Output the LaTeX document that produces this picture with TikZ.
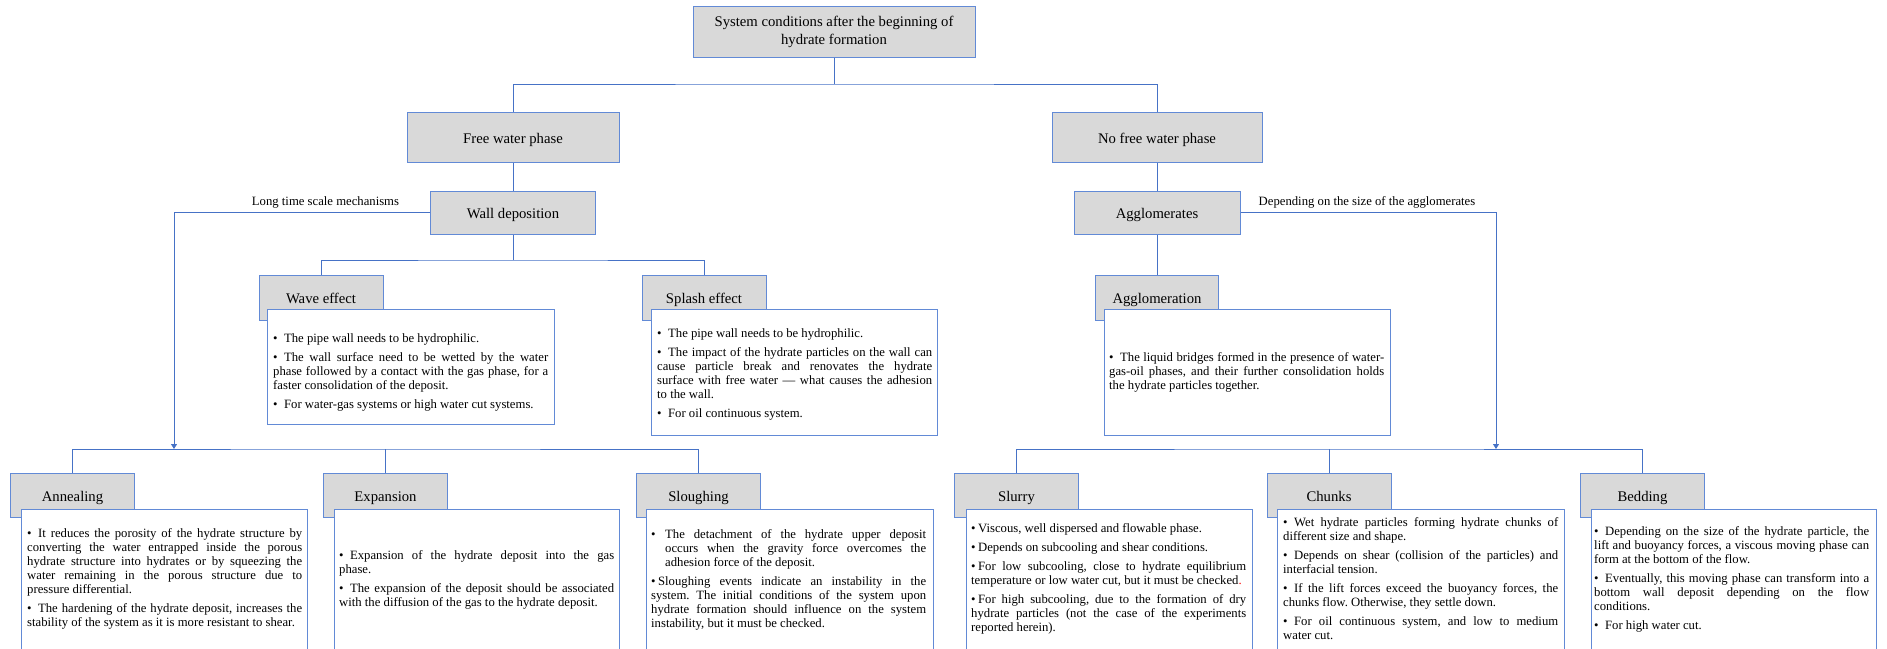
\documentclass[tikz,border=0pt]{standalone}
\usepackage{fontspec}
\setmainfont{Liberation Serif}
\usetikzlibrary{arrows.meta}
\definecolor{bord}{RGB}{98,138,214}
\definecolor{conn}{RGB}{70,114,198}
\definecolor{hdrgray}{RGB}{217,217,217}
% bullet markers used in the description boxes
\newcommand\bul{\textbullet\hspace{6.5pt}}
\newcommand\bulnarrow{\textbullet\hspace{2.5pt}}
\newcommand\bulhang{\hangindent=14pt\hangafter=1\makebox[14pt][l]{\textbullet}}

\begin{document}
\begin{tikzpicture}[x=1pt,y=-1pt,
  hdrbase/.style={draw=bord, fill=hdrgray, line width=1pt, inner sep=0pt,
    font=\fontsize{14.7}{17.5}\selectfont},
  hdr/.style={hdrbase, text height=14.5pt, text depth=2.5pt},
  tbox/.style={draw=bord, fill=white, line width=1pt, inner sep=0pt, anchor=north west},
  txt/.style={anchor=north west, inner sep=0pt, text width=275pt, align=justify,
    font=\fontsize{12.7}{14}\selectfont,
    execute at begin node={\frenchspacing\setlength{\parskip}{5pt}\setlength{\parindent}{0pt}\tolerance=9999\hyphenpenalty=10000}},
  lbl/.style={inner sep=0pt, font=\fontsize{12.7}{14}\selectfont},
  link/.style={draw=conn, line width=0.9pt},
  flow/.style={link, -{Triangle[width=6pt,length=5pt]}}
]
\useasboundingbox (0,0) rectangle (1887,648);
\clip (0,0) rectangle (1887,648);

% ---------- junction points ----------
\coordinate (jtop) at (834,84);
\coordinate (jwall) at (513,260);
\coordinate (jleft) at (385.5,449);
\coordinate (jleftin) at (174,449);
\coordinate (jright) at (1329,449);
\coordinate (jrightin) at (1496,449);

% ---------- upper boxes ----------
\node[hdrbase, minimum width=282, minimum height=51] (top) at (834,31.5)
  {\raisebox{-2.5pt}{\begin{tabular}{@{}c@{}}System conditions after the beginning of\\[0.5pt]hydrate formation\end{tabular}}};
\node[hdr, minimum width=212, minimum height=50] (free) at (513,137) {Free water phase};
\node[hdr, minimum width=210, minimum height=50] (nofree) at (1157,137) {No free water phase};
\node[hdr, minimum width=165, minimum height=43] (wall) at (513,212.5) {Wall deposition};
\node[hdr, minimum width=166, minimum height=43] (aggl) at (1157,212.5) {Agglomerates};

% ---------- connectors between levels ----------
\draw[link] (top.south) -- (jtop);
\draw[link] (free.north) |- (jtop) -| (nofree.north);
\draw[link] (free.south) -- (wall.north);
\draw[link] (nofree.south) -- (aggl.north);

% side branches with their labels
\draw[flow] (wall.west) -| (jleftin);
\draw[flow] (aggl.east) -| (jrightin);
\node[lbl] (lblleft) at (325.5,202) {Long time scale mechanisms};
\node[lbl] (lblright) at (1367,202) {Depending on the size of the agglomerates};

% ---------- second level ----------
\node[hdr, minimum width=124, minimum height=45] (wave) at (321,297.5) {Wave effect};
\node[hdr, minimum width=124, minimum height=45] (splash) at (704,297.5) {Splash effect};
\node[hdr, minimum width=123, minimum height=45] (agglm) at (1157,297.5) {Agglomeration};

\draw[link] (wall.south) -- (jwall);
\draw[link] (wave.north) |- (jwall) -| (splash.north);
\draw[link] (aggl.south) -- (agglm.north);

\node[tbox, minimum width=287, minimum height=115] (wavebox) at (267,309) {};
\node[tbox, minimum width=286, minimum height=126] (splashbox) at (651,309) {};
\node[tbox, minimum width=286, minimum height=126] (agglmbox) at (1104,309) {};

\node[txt] (wavetxt) at (273,333) {%
\bul The pipe wall needs to be hydrophilic.\par
\bul The wall surface need to be wetted by the water\linebreak
phase followed by a contact with the gas phase, for a\linebreak
faster consolidation of the deposit.\par
\bul For water-gas systems or high water cut systems.\par};

\node[txt] (splashtxt) at (657,328) {%
\bul The pipe wall needs to be hydrophilic.\par
\bul The impact of the hydrate particles on the wall can\linebreak
cause particle break and renovates the hydrate\linebreak
surface with free water --- what causes the adhesion\linebreak
to the wall.\par
\bul For oil continuous system.\par};

\node[txt] (agglmtxt) at (1109,352) {%
\bul The liquid bridges formed in the presence of water-\linebreak
gas-oil phases, and their further consolidation holds\linebreak
the hydrate particles together.\par};

% ---------- bottom level ----------
\node[hdr, minimum width=124, minimum height=44] (anneal) at (72.5,495) {Annealing};
\node[hdr, minimum width=124, minimum height=44] (expan) at (385.5,495) {Expansion};
\node[hdr, minimum width=124, minimum height=44] (slough) at (698.5,495) {Sloughing};
\node[hdr, minimum width=124, minimum height=44] (slurry) at (1016.5,495) {Slurry};
\node[hdr, minimum width=124, minimum height=44] (chunks) at (1329,495) {Chunks};
\node[hdr, minimum width=124, minimum height=44] (bedding) at (1642.5,495) {Bedding};

\draw[link] (anneal.north) |- (jleft) -| (slough.north);
\draw[link] (jleft) -- (expan.north);
\draw[link] (slurry.north) |- (jright) -| (bedding.north);
\draw[link] (jright) -- (chunks.north);

\node[tbox, minimum width=286, minimum height=150] (annealbox) at (21,509) {};
\node[tbox, minimum width=285, minimum height=150] (expanbox) at (334,509) {};
\node[tbox, minimum width=287, minimum height=150] (sloughbox) at (646,509) {};
\node[tbox, minimum width=286, minimum height=150] (slurrybox) at (966,509) {};
\node[tbox, minimum width=287, minimum height=150] (chunksbox) at (1277,509) {};
\node[tbox, minimum width=285, minimum height=150] (beddingbox) at (1591,509) {};

\node[txt] (annealtxt) at (27,528) {%
\bul It reduces the porosity of the hydrate structure by\linebreak
converting the water entrapped inside the porous\linebreak
hydrate structure into hydrates or by squeezing the\linebreak
water remaining in the porous structure due to\linebreak
pressure differential.\par
\bul The hardening of the hydrate deposit, increases the\linebreak
stability of the system as it is more resistant to shear.\par};

\node[txt] (expantxt) at (339,550) {%
\bul Expansion of the hydrate deposit into the gas\linebreak
phase.\par
\bul The expansion of the deposit should be associated\linebreak
with the diffusion of the gas to the hydrate deposit.\par};

\node[txt] (sloughtxt) at (651,529) {%
\bulhang The detachment of the hydrate upper deposit\linebreak
occurs when the gravity force overcomes the\linebreak
adhesion force of the deposit.\par
\bulnarrow Sloughing events indicate an instability in the\linebreak
system. The initial conditions of the system upon\linebreak
hydrate formation should influence on the system\linebreak
instability, but it must be checked.\par};

\node[txt] (slurrytxt) at (971,523) {%
\bulnarrow Viscous, well dispersed and flowable phase.\par
\bulnarrow Depends on subcooling and shear conditions.\par
\bulnarrow For low subcooling, close to hydrate equilibrium\linebreak
temperature or low water cut, but it must be checked\textcolor{red}{.}\par
\bulnarrow For high subcooling, due to the formation of dry\linebreak
hydrate particles (not the case of the experiments\linebreak
reported herein).\par};

\node[txt] (chunkstxt) at (1283,517) {%
\bul Wet hydrate particles forming hydrate chunks of\linebreak
different size and shape.\par
\bul Depends on shear (collision of the particles) and\linebreak
interfacial tension.\par
\bul If the lift forces exceed the buoyancy forces, the\linebreak
chunks flow. Otherwise, they settle down.\par
\bul For oil continuous system, and low to medium\linebreak
water cut.\par};

\node[txt] (beddingtxt) at (1594,526) {%
\bul Depending on the size of the hydrate particle, the\linebreak
lift and buoyancy forces, a viscous moving phase can\linebreak
form at the bottom of the flow.\par
\bul Eventually, this moving phase can transform into a\linebreak
bottom wall deposit depending on the flow\linebreak
conditions.\par
\bul For high water cut.\par};
\end{tikzpicture}
\end{document}
